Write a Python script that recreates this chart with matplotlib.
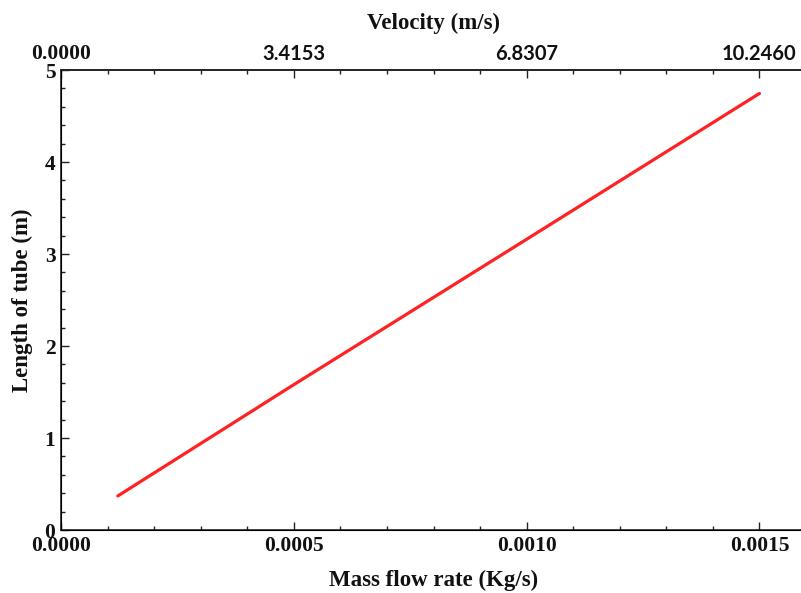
import matplotlib
matplotlib.use("Agg")
import matplotlib.pyplot as plt
from matplotlib.ticker import MultipleLocator, FixedLocator, FixedFormatter
from matplotlib.transforms import ScaledTranslation

# Tube length against mass flow rate
mass_flow = [0.000122, 0.0005, 0.0010, 0.0015]      # kg/s
tube_length = [0.37, 1.58, 3.16, 4.745]             # m

# Secondary (top) axis: velocity at the major mass-flow ticks
mass_ticks = [0.0000, 0.0005, 0.0010, 0.0015]
mass_tick_labels = ["0.0000", "0.0005", "0.0010", "0.0015"]
velocity_tick_labels = ["0.0000", "3.4153", "6.8307", "10.2460"]

W, H = 801, 593
fig = plt.figure(figsize=(W / 100, H / 100), dpi=100)
left, right, bottom, top = 61, 806, 530, 70
ax = fig.add_axes([left / W, 1 - bottom / H, (right - left) / W, (bottom - top) / H])

ax.plot(mass_flow, tube_length, color="#ff2222", lw=2.3, solid_capstyle="round")

ax.set_xlim(0, 0.0016)
ax.set_ylim(0, 5)

serif = "Liberation Serif"
ax.xaxis.set_major_locator(FixedLocator(mass_ticks))
ax.xaxis.set_major_formatter(FixedFormatter(mass_tick_labels))
ax.xaxis.set_minor_locator(MultipleLocator(0.0001))
ax.yaxis.set_major_locator(MultipleLocator(1))
ax.yaxis.set_minor_locator(MultipleLocator(0.2))

for spine in ("left", "bottom", "top"):
    ax.spines[spine].set_linewidth(1.2)
    ax.spines[spine].set_color("#222222")
ax.spines["right"].set_visible(False)

ax.tick_params(which="both", direction="in", color="#222222", width=1.0)
ax.tick_params(which="major", length=6)
ax.tick_params(which="minor", length=3)
ax.tick_params(axis="x", which="both", top=False, pad=4)
ax.tick_params(axis="y", which="both", right=False, pad=4)

for lbl in ax.get_xticklabels() + ax.get_yticklabels():
    lbl.set_fontfamily(serif)
    lbl.set_fontweight("bold")
    lbl.set_fontsize(15.5)
    lbl.set_color("#111111")

# lift the "0" on the length axis so it sits just above the "0.0000"
ylabels = ax.get_yticklabels()
ylabels[0].set_transform(ylabels[0].get_transform()
                         + ScaledTranslation(0, 5 / 72, fig.dpi_scale_trans))

ax.set_xlabel("Mass flow rate (Kg/s)", family=serif, weight="bold", fontsize=16.5,
              color="#111111", labelpad=10)
ax.set_ylabel("Length of tube (m)", family=serif, weight="bold", fontsize=16.5,
              color="#111111", labelpad=8)

# Top axis showing the corresponding velocity
tax = ax.twiny()
tax.set_xlim(ax.get_xlim())
tax.spines["right"].set_visible(False)
tax.spines["top"].set_linewidth(1.2)
tax.spines["top"].set_color("#222222")
tax.xaxis.set_major_locator(FixedLocator(mass_ticks))
tax.xaxis.set_major_formatter(FixedFormatter(velocity_tick_labels))
tax.xaxis.set_minor_locator(MultipleLocator(0.0001))
tax.tick_params(which="both", direction="in", color="#222222", width=1.0, pad=4)
tax.tick_params(which="major", length=6)
tax.tick_params(which="minor", length=3)
for i, lbl in enumerate(tax.get_xticklabels()):
    lbl.set_fontweight("bold")
    lbl.set_fontsize(15.5 if i == 0 else 14.5)
    lbl.set_color("#111111")
    lbl.set_fontfamily(serif if i == 0 else "Lato")
tax.set_xlabel("Velocity (m/s)", family=serif, weight="bold", fontsize=16.5,
               color="#111111", labelpad=11)

fig.savefig("out.png", dpi=100)
